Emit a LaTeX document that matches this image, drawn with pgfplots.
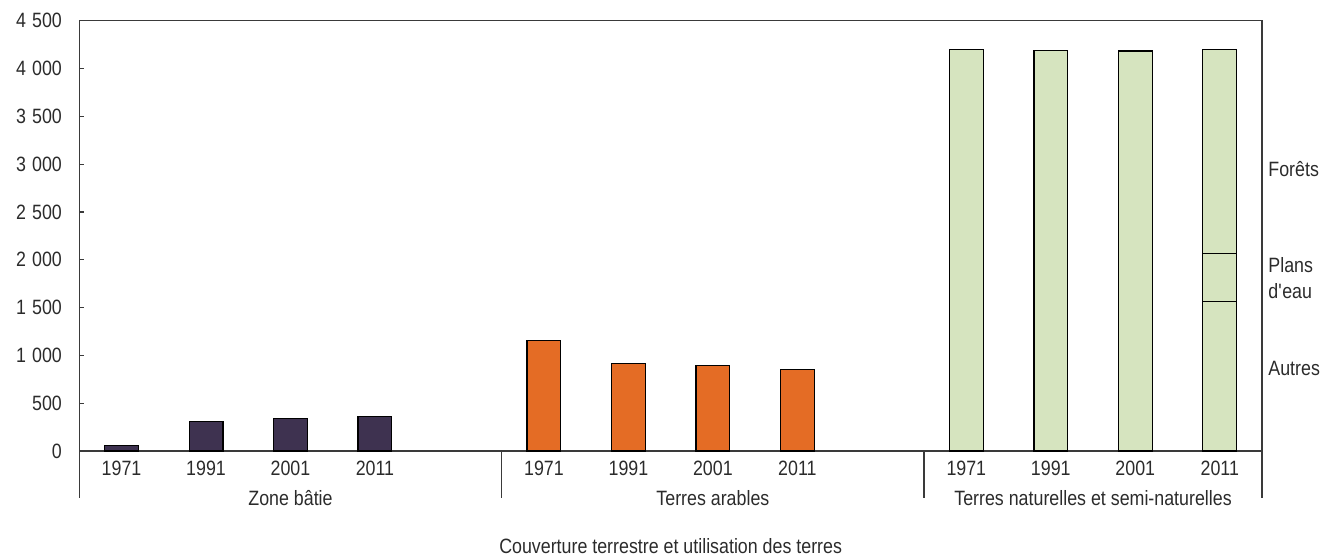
\documentclass[border=0pt]{standalone}
\usepackage{fontspec}
\setmainfont{Liberation Sans}[FakeStretch=0.86]
\usepackage{pgfplots}
\pgfplotsset{compat=1.18}
\definecolor{bati}{HTML}{3E3250}
\definecolor{arable}{HTML}{E46C25}
\definecolor{natur}{HTML}{D6E4BF}
\definecolor{axiscol}{HTML}{3A3A3A}
\definecolor{textcol}{HTML}{2B2B2B}
\newcommand{\sq}{\XeTeXglyph\XeTeXglyphindex "quotesingle"\relax}
\begin{document}
\fontsize{10.4}{12.5}\selectfont
\begin{tikzpicture}[font=\fontsize{10.4}{12.5}\selectfont, text=textcol]
\begin{axis}[
  scale only axis,
  width=591.35bp, height=215.15bp,
  xmin=-0.5, xmax=13.5, ymin=0, ymax=4500,
  clip=false,
  axis line style={draw=axiscol, line width=0.6bp},
  ytick={0,500,...,4500},
  ytick pos=left,
  tick align=inside,
  major tick length=2.5bp,
  every tick/.style={draw=axiscol, line width=0.6bp},
  /pgf/number format/assume math mode=true,
  /pgf/number format/1000 sep={\hspace{0.3em}},
  yticklabel style={anchor=east, inner sep=0pt, xshift=-8.5bp, text=textcol},
  xtick={0,1,2,3,5,6,7,8,10,11,12,13},
  xticklabels={1971,1991,2001,2011,1971,1991,2001,2011,1971,1991,2001,2011},
  xtick style={draw=none},
  xticklabel style={anchor=center, inner sep=0pt, yshift=-8.5bp, text=textcol},
]
% Zone batie
\addplot[ybar, bar width=0.4, fill=bati, draw=black, line width=0.6bp]
  coordinates {(0,60) (1,310) (2,338) (3,363)};
% Terres arables
\addplot[ybar, bar width=0.4, fill=arable, draw=black, line width=0.6bp]
  coordinates {(5,1154) (6,917) (7,896) (8,851)};
% Terres naturelles et semi-naturelles (totals)
\addplot[ybar, bar width=0.4, fill=natur, draw=black, line width=0.6bp]
  coordinates {(10,4200) (11,4190) (12,4182) (13,4200)};
% 2011 breakdown: Autres + Plans d'eau (cumulative), then Autres
\addplot[ybar, bar width=0.4, fill=natur, draw=black, line width=0.6bp]
  coordinates {(13,2064)};
\addplot[ybar, bar width=0.4, fill=natur, draw=black, line width=0.6bp]
  coordinates {(13,1562)};

% group separators below the axis
\draw[axiscol, line width=0.6bp] (axis cs:-0.5,0) -- ([yshift=-23.5bp]axis cs:-0.5,0);
\draw[axiscol, line width=0.6bp] (axis cs:4.5,0) -- ([yshift=-23.5bp]axis cs:4.5,0);
\draw[axiscol, line width=0.6bp] (axis cs:9.5,0) -- ([yshift=-23.5bp]axis cs:9.5,0);
\draw[axiscol, line width=0.6bp] (axis cs:13.5,0) -- ([yshift=-23.5bp]axis cs:13.5,0);

% group labels
\node[inner sep=0pt, anchor=center, yshift=-23.5bp] at (axis cs:2,0) {Zone bâtie};
\node[inner sep=0pt, anchor=center, yshift=-23.5bp] at (axis cs:7,0) {Terres arables};
\node[inner sep=0pt, anchor=center, yshift=-23.5bp] at (axis cs:11.5,0) {Terres naturelles et semi-naturelles};
\node[inner sep=0pt, anchor=center, yshift=-47.5bp] at (axis cs:6.5,0) {Couverture terrestre et utilisation des terres};

% right-hand labels
\node[inner sep=0pt, anchor=west, xshift=3bp] at (axis cs:13.5,2950) {Forêts};
\node[inner sep=0pt, anchor=west, xshift=3bp, align=left] at (axis cs:13.5,1810) {Plans\\[0.3bp]d\sq eau};
\node[inner sep=0pt, anchor=west, xshift=3bp] at (axis cs:13.5,868) {Autres};
\end{axis}
\pgfresetboundingbox
\path[use as bounding box] ([xshift=-39.65bp,yshift=-52bp]current axis.south west) rectangle ([xshift=30bp,yshift=10.35bp]current axis.north east);
\end{tikzpicture}
\end{document}
